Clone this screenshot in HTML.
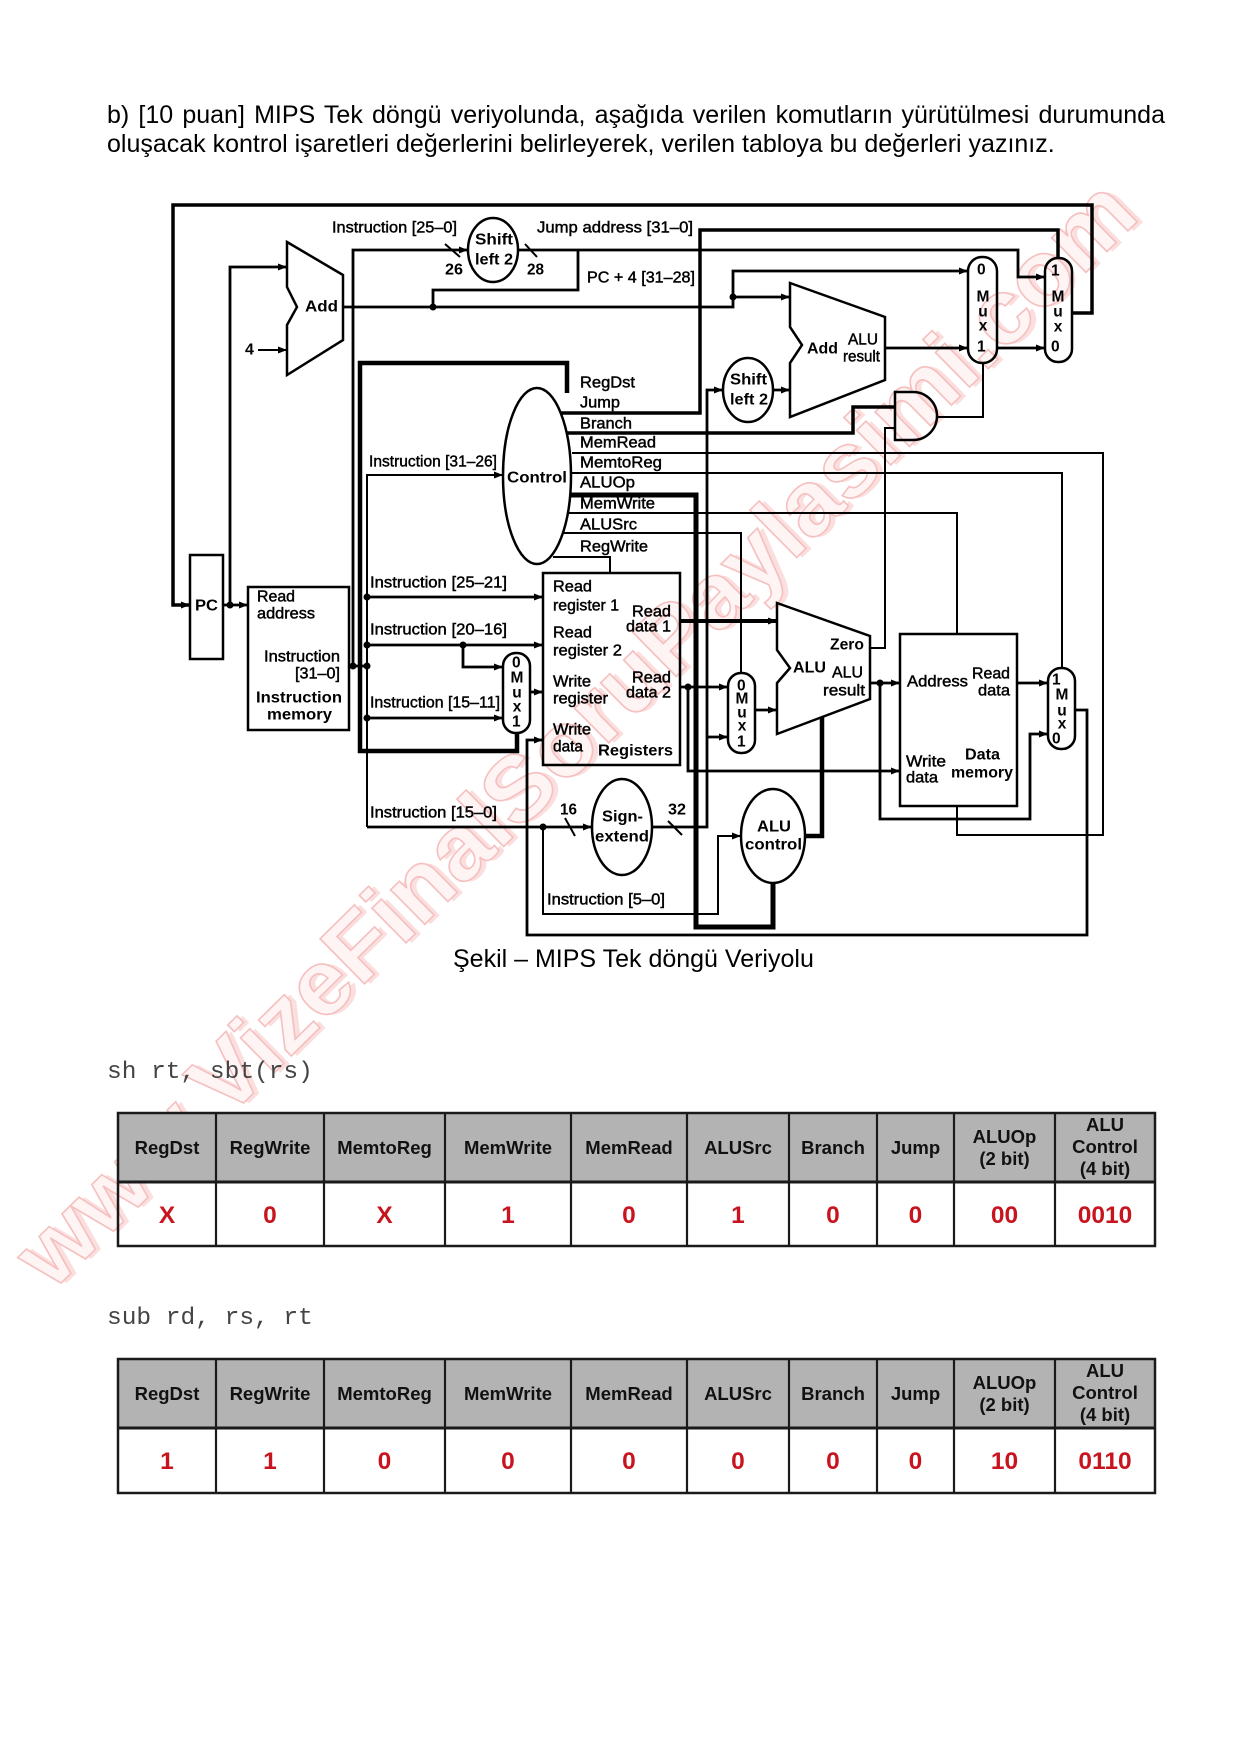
<!DOCTYPE html>
<html>
<head>
<meta charset="utf-8">
<style>
  html,body{margin:0;padding:0;background:#fff;}
  #page{position:relative;width:1239px;height:1754px;overflow:hidden;background:#fff;}
  .para{position:absolute;left:107px;width:1058px;font-family:"Liberation Sans",Arial,sans-serif;font-size:25px;line-height:29px;color:#000;white-space:nowrap;}
  #l1{top:101px;text-align:justify;text-align-last:justify;white-space:normal;}
  #l2{top:130px;}
  svg{position:absolute;left:0;top:0;}
  .lb{font-family:"Liberation Sans",Arial,sans-serif;font-size:16px;fill:#000;stroke:#000;stroke-width:0.45;dominant-baseline:central;}
  .bd{font-family:"Liberation Sans",Arial,sans-serif;font-size:16px;font-weight:bold;fill:#000;dominant-baseline:central;}
  .mx{font-family:"Liberation Sans",Arial,sans-serif;font-size:15.5px;font-weight:bold;fill:#000;dominant-baseline:central;}
  .th{font-family:"Liberation Sans",Arial,sans-serif;font-size:18.5px;font-weight:bold;fill:#111;text-anchor:middle;}
  .tv{font-family:"Liberation Sans",Arial,sans-serif;font-size:24.5px;font-weight:bold;fill:#c8141e;text-anchor:middle;}
  .mono{font-family:"Liberation Mono","Courier New",monospace;font-size:24.5px;fill:#444;}
</style>
</head>
<body>
<div id="page">
<svg width="1239" height="1754" viewBox="0 0 1239 1754" xmlns="http://www.w3.org/2000/svg">
  <defs>
    <marker id="ar" viewBox="0 0 9 7" refX="9" refY="3.5" markerWidth="9" markerHeight="7" markerUnits="userSpaceOnUse" orient="auto">
      <path d="M0,0 L9,3.5 L0,7 z" fill="#000"/>
    </marker>
  </defs>

  <!-- watermark -->
  <g transform="translate(52,1292) rotate(-44.6)" font-family="Liberation Sans, Arial, sans-serif" font-weight="bold" font-size="92">
    <text x="4" y="4" textLength="1530" lengthAdjust="spacingAndGlyphs" fill="#fbdede" stroke="none">www.VizeFinalSoruPaylasimi.com</text>
    <text x="0" y="0" textLength="1530" lengthAdjust="spacingAndGlyphs" fill="#fef4f4" stroke="#f5c0c0" stroke-width="1.6">www.VizeFinalSoruPaylasimi.com</text>
  </g>

  <!-- ============ DIAGRAM ============ -->
  <g fill="none" stroke="#000" stroke-linejoin="miter">
    <!-- thin control lines -->
    <g stroke-width="2">
      <polyline points="258,350 287,350" marker-end="url(#ar)"/>
      <polyline points="983,363 983,417 937,417"/>
      <polyline points="870,648 885,648 885,428 895,428"/>
      <polyline points="572,453 1103,453 1103,835 957,835 957,806"/>
      <polyline points="571,473 1062,473 1062,668"/>
      <polyline points="568,513 957,513 957,634"/>
      <polyline points="563,533 741,533 741,673"/>
      <polyline points="553,557 610,557 610,573"/>
      <polyline points="367,827 367,475 503,475" marker-end="url(#ar)"/>
      <polyline points="543,827 543,914 718,914 718,836 741,836" marker-end="url(#ar)"/>
    </g>
    <!-- data lines -->
    <g stroke-width="2.8">
      <polyline points="230,605 230,267 287,267" marker-end="url(#ar)"/>
      <polyline points="223,605 248,605" marker-end="url(#ar)"/>
      <polyline points="343,307 733,307 733,297"/>
      <polyline points="433,307 433,290 578,290 578,250"/>
      <polyline points="733,297 790,297" marker-end="url(#ar)"/>
      <polyline points="733,297 733,271 968,271" marker-end="url(#ar)"/>
      <polyline points="353,666 353,250 468,250" marker-end="url(#ar)"/>
      <polyline points="518,250 1018,250 1018,277 1045,277" marker-end="url(#ar)"/>
      <polyline points="885,348 968,348" marker-end="url(#ar)"/>
      <polyline points="997,348 1045,348" marker-end="url(#ar)"/>
      <polyline points="652,827 707,827 707,390 723,390" marker-end="url(#ar)"/>
      <polyline points="707,737 728,737" marker-end="url(#ar)"/>
      <polyline points="773,390 790,390" marker-end="url(#ar)"/>
      <polyline points="349,666 367,666"/>
      <polyline points="367,597 543,597" marker-end="url(#ar)"/>
      <polyline points="367,645 543,645" marker-end="url(#ar)"/>
      <polyline points="463,645 463,667 503,667" marker-end="url(#ar)"/>
      <polyline points="367,718 503,718" marker-end="url(#ar)"/>
      <polyline points="367,827 592,827" marker-end="url(#ar)"/>
      <polyline points="530,692 543,692" marker-end="url(#ar)"/>
      <polyline points="1075,710 1087,710 1087,935 527,935 527,740 543,740" marker-end="url(#ar)"/>
      <polyline points="680,687 728,687" marker-end="url(#ar)"/>
      <polyline points="688,687 688,771 900,771" marker-end="url(#ar)"/>
      <polyline points="755,710 777,710" marker-end="url(#ar)"/>
      <polyline points="870,683 900,683" marker-end="url(#ar)"/>
      <polyline points="880,683 880,819 1030,819 1030,734 1048,734" marker-end="url(#ar)"/>
      <polyline points="1017,683 1048,683" marker-end="url(#ar)"/>
    </g>
    <!-- thick lines -->
    <polyline stroke-width="3.5" points="1072,313 1092,313 1092,205 173,205 173,605 190,605" marker-end="url(#ar)"/>
    <polyline stroke-width="3.5" points="561,413 700,413 700,230 1058,230 1058,258"/>
    <polyline stroke-width="3.5" points="567,433 853,433 853,407 895,407"/>
    <polyline stroke-width="4.5" points="567,393 567,363 360,363 360,751 517,751 517,733"/>
    <polyline stroke-width="5" points="570,495 696,495 696,927 773,927 773,883"/>
    <polyline stroke-width="4" points="680,621 777,621" marker-end="url(#ar)"/>
    <polyline stroke-width="4.5" points="805,836 822,836 822,717"/>

    <!-- bit-width slashes -->
    <g stroke-width="2">
      <line x1="445" y1="244" x2="460" y2="257"/>
      <line x1="525" y1="244" x2="537" y2="257"/>
      <line x1="565" y1="818" x2="575" y2="836"/>
      <line x1="668" y1="821" x2="682" y2="835"/>
    </g>

    <!-- shapes -->
    <g stroke-width="2.5">
      <rect x="190" y="555" width="33" height="104"/>
      <rect x="248" y="587" width="101" height="143"/>
      <rect x="543" y="573" width="137" height="192"/>
      <rect x="900" y="634" width="117" height="172"/>
      <!-- muxes -->
      <rect x="503" y="653" width="27" height="80" rx="13" ry="13"/>
      <rect x="728" y="673" width="27" height="80" rx="13" ry="13"/>
      <rect x="1048" y="668" width="27" height="81" rx="13" ry="13"/>
      <rect x="968" y="257" width="29" height="106" rx="14" ry="14"/>
      <rect x="1045" y="258" width="27" height="104" rx="13" ry="13"/>
      <!-- ellipses -->
      <ellipse cx="537" cy="476" rx="34" ry="88"/>
      <ellipse cx="493" cy="250" rx="25" ry="32"/>
      <ellipse cx="748" cy="390" rx="25" ry="32"/>
      <ellipse cx="622" cy="827" rx="30" ry="48"/>
      <ellipse cx="773" cy="836" rx="32" ry="47"/>
      <!-- adders / ALU -->
      <polygon points="287,242 343,275 343,340 287,375 287,325 297,307 287,287"/>
      <polygon points="790,283 885,317 885,380 790,417 790,363 802,345 790,327"/>
      <polygon points="777,603 870,636 870,699 777,734 777,683 790,668 777,650"/>
      <!-- AND gate -->
      <path d="M895,392 H913 A24,24 0 0 1 913,440 H895 Z"/>
    </g>
  </g>

  <!-- junction dots -->
  <g fill="#000">
    <circle cx="433" cy="307" r="3.5"/>
    <circle cx="733" cy="297" r="3.5"/>
    <circle cx="230" cy="605" r="3.5"/>
    <circle cx="353" cy="666" r="3.5"/>
    <circle cx="367" cy="666" r="3.5"/>
    <circle cx="367" cy="597" r="3.5"/>
    <circle cx="367" cy="645" r="3.5"/>
    <circle cx="367" cy="718" r="3.5"/>
    <circle cx="463" cy="645" r="3.5"/>
    <circle cx="543" cy="827" r="3.5"/>
    <circle cx="688" cy="687" r="3.5"/>
    <circle cx="880" cy="683" r="3.5"/>
  </g>

  <!-- diagram labels -->
  <text class="lb" x="332" y="228" textLength="125" lengthAdjust="spacingAndGlyphs">Instruction [25–0]</text>
  <text class="lb" x="537" y="228" textLength="156" lengthAdjust="spacingAndGlyphs">Jump address [31–0]</text>
  <text class="bd" x="445" y="270" textLength="18" lengthAdjust="spacingAndGlyphs" font-size="14">26</text>
  <text class="bd" x="527" y="270" textLength="17" lengthAdjust="spacingAndGlyphs" font-size="14">28</text>
  <text class="bd" x="475" y="240" textLength="38" lengthAdjust="spacingAndGlyphs" font-size="15">Shift</text>
  <text class="bd" x="475" y="260" textLength="38" lengthAdjust="spacingAndGlyphs" font-size="15">left 2</text>
  <text class="lb" x="587" y="278" textLength="108" lengthAdjust="spacingAndGlyphs">PC + 4 [31–28]</text>
  <text class="bd" x="305" y="307" textLength="33" lengthAdjust="spacingAndGlyphs">Add</text>
  <text class="bd" x="245" y="350" font-size="15">4</text>

  <text class="bd" x="730" y="380" textLength="37" lengthAdjust="spacingAndGlyphs" font-size="15">Shift</text>
  <text class="bd" x="730" y="400" textLength="38" lengthAdjust="spacingAndGlyphs" font-size="15">left 2</text>
  <text class="bd" x="807" y="349" textLength="31" lengthAdjust="spacingAndGlyphs">Add</text>
  <text class="lb" x="848" y="340" textLength="30" lengthAdjust="spacingAndGlyphs">ALU</text>
  <text class="lb" x="843" y="357" textLength="37" lengthAdjust="spacingAndGlyphs">result</text>

  <!-- top muxes -->
  <text class="mx" x="977" y="270">0</text>
  <text class="mx" x="983" y="297" text-anchor="middle">M</text>
  <text class="mx" x="983" y="312" text-anchor="middle">u</text>
  <text class="mx" x="983" y="326" text-anchor="middle">x</text>
  <text class="mx" x="977" y="347">1</text>
  <text class="mx" x="1051" y="271">1</text>
  <text class="mx" x="1058" y="297" text-anchor="middle">M</text>
  <text class="mx" x="1058" y="312" text-anchor="middle">u</text>
  <text class="mx" x="1058" y="327" text-anchor="middle">x</text>
  <text class="mx" x="1051" y="347">0</text>

  <!-- control -->
  <text class="bd" x="507" y="478" textLength="60" lengthAdjust="spacingAndGlyphs">Control</text>
  <text class="lb" x="580" y="383" textLength="55" lengthAdjust="spacingAndGlyphs">RegDst</text>
  <text class="lb" x="580" y="403" textLength="40" lengthAdjust="spacingAndGlyphs">Jump</text>
  <text class="lb" x="580" y="424" textLength="52" lengthAdjust="spacingAndGlyphs">Branch</text>
  <text class="lb" x="580" y="443" textLength="76" lengthAdjust="spacingAndGlyphs">MemRead</text>
  <text class="lb" x="580" y="463" textLength="82" lengthAdjust="spacingAndGlyphs">MemtoReg</text>
  <text class="lb" x="580" y="483" textLength="55" lengthAdjust="spacingAndGlyphs">ALUOp</text>
  <text class="lb" x="580" y="504" textLength="75" lengthAdjust="spacingAndGlyphs">MemWrite</text>
  <text class="lb" x="580" y="525" textLength="57" lengthAdjust="spacingAndGlyphs">ALUSrc</text>
  <text class="lb" x="580" y="547" textLength="68" lengthAdjust="spacingAndGlyphs">RegWrite</text>
  <text class="lb" x="369" y="462" textLength="128" lengthAdjust="spacingAndGlyphs">Instruction [31–26]</text>

  <!-- PC / IM -->
  <text class="bd" x="195" y="606" textLength="23" lengthAdjust="spacingAndGlyphs">PC</text>
  <text class="lb" x="257" y="597" textLength="38" lengthAdjust="spacingAndGlyphs">Read</text>
  <text class="lb" x="257" y="614" textLength="58" lengthAdjust="spacingAndGlyphs">address</text>
  <text class="lb" x="264" y="657" textLength="76" lengthAdjust="spacingAndGlyphs">Instruction</text>
  <text class="lb" x="295" y="674" textLength="45" lengthAdjust="spacingAndGlyphs">[31–0]</text>
  <text class="bd" x="256" y="698" textLength="86" lengthAdjust="spacingAndGlyphs">Instruction</text>
  <text class="bd" x="267" y="715" textLength="65" lengthAdjust="spacingAndGlyphs">memory</text>

  <text class="lb" x="370" y="583" textLength="137" lengthAdjust="spacingAndGlyphs">Instruction [25–21]</text>
  <text class="lb" x="370" y="630" textLength="137" lengthAdjust="spacingAndGlyphs">Instruction [20–16]</text>
  <text class="lb" x="370" y="703" textLength="130" lengthAdjust="spacingAndGlyphs">Instruction [15–11]</text>
  <text class="lb" x="370" y="813" textLength="127" lengthAdjust="spacingAndGlyphs">Instruction [15–0]</text>
  <text class="lb" x="547" y="900" textLength="118" lengthAdjust="spacingAndGlyphs">Instruction [5–0]</text>

  <!-- RegDst mux -->
  <text class="mx" x="512" y="663">0</text>
  <text class="mx" x="517" y="678" text-anchor="middle">M</text>
  <text class="mx" x="517" y="693" text-anchor="middle">u</text>
  <text class="mx" x="517" y="707" text-anchor="middle">x</text>
  <text class="mx" x="512" y="722">1</text>

  <!-- Register file -->
  <text class="lb" x="553" y="587" textLength="39" lengthAdjust="spacingAndGlyphs">Read</text>
  <text class="lb" x="553" y="606" textLength="66" lengthAdjust="spacingAndGlyphs">register 1</text>
  <text class="lb" x="553" y="633" textLength="39" lengthAdjust="spacingAndGlyphs">Read</text>
  <text class="lb" x="553" y="651" textLength="69" lengthAdjust="spacingAndGlyphs">register 2</text>
  <text class="lb" x="553" y="682" textLength="38" lengthAdjust="spacingAndGlyphs">Write</text>
  <text class="lb" x="553" y="699" textLength="55" lengthAdjust="spacingAndGlyphs">register</text>
  <text class="lb" x="553" y="730" textLength="38" lengthAdjust="spacingAndGlyphs">Write</text>
  <text class="lb" x="553" y="747" textLength="30" lengthAdjust="spacingAndGlyphs">data</text>
  <text class="bd" x="598" y="751" textLength="75" lengthAdjust="spacingAndGlyphs">Registers</text>
  <text class="lb" x="632" y="612" textLength="39" lengthAdjust="spacingAndGlyphs">Read</text>
  <text class="lb" x="626" y="627" textLength="45" lengthAdjust="spacingAndGlyphs">data 1</text>
  <text class="lb" x="632" y="678" textLength="39" lengthAdjust="spacingAndGlyphs">Read</text>
  <text class="lb" x="626" y="693" textLength="45" lengthAdjust="spacingAndGlyphs">data 2</text>

  <!-- sign extend -->
  <text class="bd" x="560" y="810" font-size="14" textLength="17" lengthAdjust="spacingAndGlyphs">16</text>
  <text class="bd" x="602" y="817" textLength="41" lengthAdjust="spacingAndGlyphs">Sign-</text>
  <text class="bd" x="595" y="837" textLength="54" lengthAdjust="spacingAndGlyphs">extend</text>
  <text class="bd" x="668" y="810" font-size="14" textLength="18" lengthAdjust="spacingAndGlyphs">32</text>

  <!-- ALUSrc mux -->
  <text class="mx" x="737" y="686">0</text>
  <text class="mx" x="742" y="699" text-anchor="middle">M</text>
  <text class="mx" x="742" y="713" text-anchor="middle">u</text>
  <text class="mx" x="742" y="726" text-anchor="middle">x</text>
  <text class="mx" x="737" y="742">1</text>

  <!-- ALU -->
  <text class="bd" x="793" y="668" textLength="33" lengthAdjust="spacingAndGlyphs">ALU</text>
  <text class="bd" x="830" y="645" textLength="34" lengthAdjust="spacingAndGlyphs">Zero</text>
  <text class="lb" x="832" y="673" textLength="31" lengthAdjust="spacingAndGlyphs">ALU</text>
  <text class="lb" x="823" y="691" textLength="42" lengthAdjust="spacingAndGlyphs">result</text>

  <!-- ALU control -->
  <text class="bd" x="757" y="827" textLength="34" lengthAdjust="spacingAndGlyphs">ALU</text>
  <text class="bd" x="745" y="845" textLength="57" lengthAdjust="spacingAndGlyphs">control</text>

  <!-- Data memory -->
  <text class="lb" x="907" y="682" textLength="61" lengthAdjust="spacingAndGlyphs">Address</text>
  <text class="lb" x="972" y="674" textLength="38" lengthAdjust="spacingAndGlyphs">Read</text>
  <text class="lb" x="978" y="691" textLength="32" lengthAdjust="spacingAndGlyphs">data</text>
  <text class="lb" x="906" y="762" textLength="40" lengthAdjust="spacingAndGlyphs">Write</text>
  <text class="lb" x="906" y="778" textLength="32" lengthAdjust="spacingAndGlyphs">data</text>
  <text class="bd" x="965" y="755" textLength="35" lengthAdjust="spacingAndGlyphs">Data</text>
  <text class="bd" x="951" y="773" textLength="62" lengthAdjust="spacingAndGlyphs">memory</text>

  <!-- Mem mux -->
  <text class="mx" x="1052" y="680">1</text>
  <text class="mx" x="1062" y="695" text-anchor="middle">M</text>
  <text class="mx" x="1062" y="711" text-anchor="middle">u</text>
  <text class="mx" x="1062" y="724" text-anchor="middle">x</text>
  <text class="mx" x="1052" y="739">0</text>

  <!-- caption -->
  <text x="453" y="967" font-family="Liberation Sans, Arial, sans-serif" font-size="25" fill="#000">Şekil – MIPS Tek döngü Veriyolu</text>

  <!-- ============ TABLE 1 ============ -->
  <text class="mono" x="107" y="1078">sh rt, sbt(rs)</text>
  <rect x="118" y="1113" width="1037" height="69" fill="#b3b3b3"/>
  <g stroke="#1a1a1a" fill="none">
    <rect x="118" y="1113" width="1037" height="133" stroke-width="2.5"/>
    <line x1="118" y1="1182" x2="1155" y2="1182" stroke-width="3"/>
    <g stroke-width="2.2">
      <line x1="216" y1="1113" x2="216" y2="1246"/>
      <line x1="324" y1="1113" x2="324" y2="1246"/>
      <line x1="445" y1="1113" x2="445" y2="1246"/>
      <line x1="571" y1="1113" x2="571" y2="1246"/>
      <line x1="687" y1="1113" x2="687" y2="1246"/>
      <line x1="789" y1="1113" x2="789" y2="1246"/>
      <line x1="877" y1="1113" x2="877" y2="1246"/>
      <line x1="954" y1="1113" x2="954" y2="1246"/>
      <line x1="1055" y1="1113" x2="1055" y2="1246"/>
    </g>
  </g>
  <text class="th" x="167" y="1154">RegDst</text>
  <text class="th" x="270" y="1154">RegWrite</text>
  <text class="th" x="384.5" y="1154">MemtoReg</text>
  <text class="th" x="508" y="1154">MemWrite</text>
  <text class="th" x="629" y="1154">MemRead</text>
  <text class="th" x="738" y="1154">ALUSrc</text>
  <text class="th" x="833" y="1154">Branch</text>
  <text class="th" x="915.5" y="1154">Jump</text>
  <text class="th" x="1004.5" y="1143">ALUOp</text>
  <text class="th" x="1004.5" y="1165">(2 bit)</text>
  <text class="th" x="1105" y="1131">ALU</text>
  <text class="th" x="1105" y="1153">Control</text>
  <text class="th" x="1105" y="1175">(4 bit)</text>
  <text class="tv" x="167" y="1223">X</text>
  <text class="tv" x="270" y="1223">0</text>
  <text class="tv" x="384.5" y="1223">X</text>
  <text class="tv" x="508" y="1223">1</text>
  <text class="tv" x="629" y="1223">0</text>
  <text class="tv" x="738" y="1223">1</text>
  <text class="tv" x="833" y="1223">0</text>
  <text class="tv" x="915.5" y="1223">0</text>
  <text class="tv" x="1004.5" y="1223">00</text>
  <text class="tv" x="1105" y="1223">0010</text>

  <!-- ============ TABLE 2 ============ -->
  <text class="mono" x="107" y="1324">sub rd, rs, rt</text>
  <rect x="118" y="1359" width="1037" height="69" fill="#b3b3b3"/>
  <g stroke="#1a1a1a" fill="none">
    <rect x="118" y="1359" width="1037" height="134" stroke-width="2.5"/>
    <line x1="118" y1="1428" x2="1155" y2="1428" stroke-width="3"/>
    <g stroke-width="2.2">
      <line x1="216" y1="1359" x2="216" y2="1493"/>
      <line x1="324" y1="1359" x2="324" y2="1493"/>
      <line x1="445" y1="1359" x2="445" y2="1493"/>
      <line x1="571" y1="1359" x2="571" y2="1493"/>
      <line x1="687" y1="1359" x2="687" y2="1493"/>
      <line x1="789" y1="1359" x2="789" y2="1493"/>
      <line x1="877" y1="1359" x2="877" y2="1493"/>
      <line x1="954" y1="1359" x2="954" y2="1493"/>
      <line x1="1055" y1="1359" x2="1055" y2="1493"/>
    </g>
  </g>
  <text class="th" x="167" y="1400">RegDst</text>
  <text class="th" x="270" y="1400">RegWrite</text>
  <text class="th" x="384.5" y="1400">MemtoReg</text>
  <text class="th" x="508" y="1400">MemWrite</text>
  <text class="th" x="629" y="1400">MemRead</text>
  <text class="th" x="738" y="1400">ALUSrc</text>
  <text class="th" x="833" y="1400">Branch</text>
  <text class="th" x="915.5" y="1400">Jump</text>
  <text class="th" x="1004.5" y="1389">ALUOp</text>
  <text class="th" x="1004.5" y="1411">(2 bit)</text>
  <text class="th" x="1105" y="1377">ALU</text>
  <text class="th" x="1105" y="1399">Control</text>
  <text class="th" x="1105" y="1421">(4 bit)</text>
  <text class="tv" x="167" y="1469">1</text>
  <text class="tv" x="270" y="1469">1</text>
  <text class="tv" x="384.5" y="1469">0</text>
  <text class="tv" x="508" y="1469">0</text>
  <text class="tv" x="629" y="1469">0</text>
  <text class="tv" x="738" y="1469">0</text>
  <text class="tv" x="833" y="1469">0</text>
  <text class="tv" x="915.5" y="1469">0</text>
  <text class="tv" x="1004.5" y="1469">10</text>
  <text class="tv" x="1105" y="1469">0110</text>
</svg>

<div class="para" id="l1">b) [10 puan] MIPS Tek döngü veriyolunda, aşağıda verilen komutların yürütülmesi durumunda</div>
<div class="para" id="l2">oluşacak kontrol işaretleri değerlerini belirleyerek, verilen tabloya bu değerleri yazınız.</div>
</div>
</body>
</html>
